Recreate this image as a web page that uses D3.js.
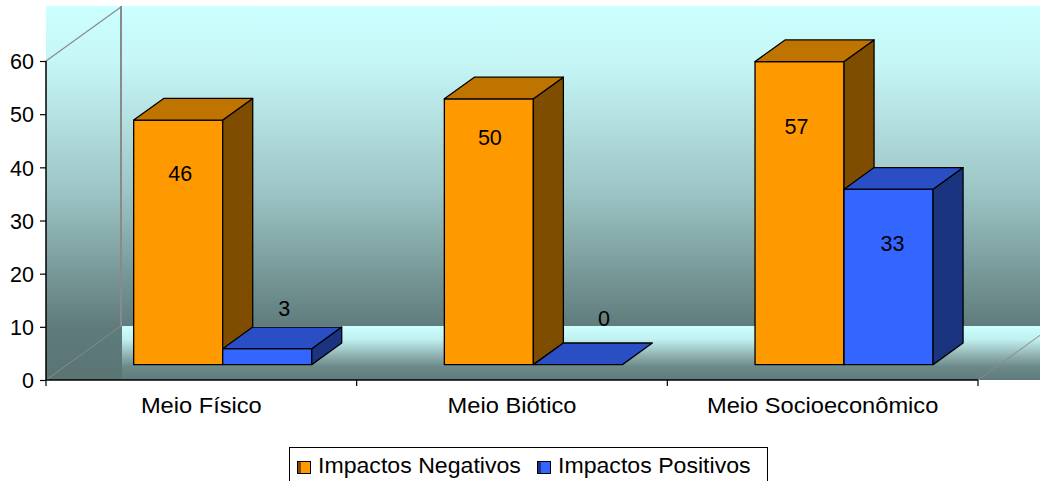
<!DOCTYPE html>
<html>
<head>
<meta charset="utf-8">
<script src="https://cdn.jsdelivr.net/npm/d3@7"></script>
<style>
  body { margin: 0; background: #fff; }
  svg { display: block; }
  text { font-family: "Liberation Sans", Arial, Helvetica, sans-serif; fill: #000; }
</style>
</head>
<body>
<svg id="chart" width="1040" height="481"></svg>
<script>
// ---- data ----
const categories = ["Meio Físico", "Meio Biótico", "Meio Socioeconômico"];
const seriesNames = ["Impactos Negativos", "Impactos Positivos"];
const negativos = [46, 50, 57];
const positivos = [3, 0, 33];
const yTicks = [0, 10, 20, 30, 40, 50, 60];

// ---- layout ----
const svg = d3.select("#chart");
const W = 1040, H = 481;
const plotLeft = 46, plotRight = 978;
const wallTop = 6;
const depth = { dx: 75, dy: -54 };          // full depth of the 3D box
const barFront = 0.285, barBack = 0.685;    // bar depth, as a fraction of the box
const fontSize = 21.5;

const y = d3.scaleLinear().domain([0, 60]).range([380, 61]);
const x = d3.scaleBand().domain(categories).range([plotLeft, plotRight]).padding(0);
const inner = d3.scaleBand().domain(seriesNames).range([0, x.bandwidth()])
  .paddingInner(0).paddingOuter(0.745);

const faces = {
  "Impactos Negativos": { front: "#ff9900", top: "#c07400", side: "#7f4d00" },
  "Impactos Positivos": { front: "#3366ff", top: "#2a4ec4", side: "#1b3480" }
};

// label placement relative to the top-centre of each bar's front face
const labelNudge = {
  "Impactos Negativos": [[2, 53], [1, 38], [-3, 65]],
  "Impactos Positivos": [[17, -40], [26, -46], [4, 54]]
};

const defs = svg.append("defs");
const wallGrad = defs.append("linearGradient").attr("id", "wallGrad")
  .attr("gradientUnits", "userSpaceOnUse")
  .attr("x1", 0).attr("x2", 0).attr("y1", wallTop).attr("y2", y(0));
[[0, "#ccffff"], [0.15, "#c6f6f6"], [0.5, "#9cc4c4"], [0.86, "#5f7b7b"], [1, "#5a7474"]]
  .forEach(([o, c]) => wallGrad.append("stop").attr("offset", o).attr("stop-color", c));

const floorTop = y(0) + depth.dy;
const floorGrad = defs.append("linearGradient").attr("id", "floorGrad")
  .attr("gradientUnits", "userSpaceOnUse")
  .attr("x1", 0).attr("x2", 0).attr("y1", floorTop).attr("y2", y(0));
[[0, "#ccffff"], [0.25, "#c0f0f0"], [0.55, "#90b0b0"], [0.75, "#6c8a8a"], [1, "#5f7a7a"]]
  .forEach(([o, c]) => floorGrad.append("stop").attr("offset", o).attr("stop-color", c));

// ---- walls and floor ----
svg.append("rect")
  .attr("x", plotLeft).attr("y", wallTop)
  .attr("width", W - plotLeft).attr("height", y(0) - wallTop)
  .attr("fill", "url(#wallGrad)");

svg.append("rect")
  .attr("x", plotLeft + depth.dx + 1).attr("y", floorTop)
  .attr("width", W - plotLeft - depth.dx).attr("height", y(0) - floorTop)
  .attr("fill", "url(#floorGrad)");

const edge = svg.append("g").attr("stroke", "#8a8a8a").attr("fill", "none");
edge.append("line")
  .attr("x1", plotLeft).attr("y1", y(60))
  .attr("x2", plotLeft + depth.dx).attr("y2", y(60) + depth.dy)
  .attr("stroke-width", 1.2);
edge.append("line")
  .attr("x1", plotLeft + depth.dx).attr("y1", wallTop)
  .attr("x2", plotLeft + depth.dx).attr("y2", floorTop)
  .attr("stroke-width", 2);
edge.append("line")
  .attr("x1", plotLeft).attr("y1", y(0))
  .attr("x2", plotLeft + depth.dx).attr("y2", floorTop)
  .attr("stroke-width", 1);
edge.append("line")
  .attr("x1", plotRight).attr("y1", y(0))
  .attr("x2", plotRight + depth.dx).attr("y2", y(0) + depth.dy)
  .attr("stroke-width", 1);

// ---- bars ----
const fdx = depth.dx * barFront, fdy = depth.dy * barFront;
const bdx = depth.dx * barBack, bdy = depth.dy * barBack;

const rows = [];
categories.forEach((c, i) => {
  rows.push({ c, i, s: seriesNames[0], v: negativos[i] });
  rows.push({ c, i, s: seriesNames[1], v: positivos[i] });
});

const pts = a => a.map(p => p.join(",")).join(" ");
const barG = svg.append("g")
  .attr("stroke", "#000").attr("stroke-width", 1.3).attr("stroke-linejoin", "round");

rows.forEach(d => {
  const xl = x(d.c) + inner(d.s), xr = xl + inner.bandwidth();
  const yt = y(d.v), yb = y(0);
  const col = faces[d.s];
  const g = barG.append("g");
  if (d.v > 0) {
    g.append("polygon").attr("fill", col.front)
      .attr("points", pts([[xl + fdx, yt + fdy], [xr + fdx, yt + fdy], [xr + fdx, yb + fdy], [xl + fdx, yb + fdy]]));
    g.append("polygon").attr("fill", col.side)
      .attr("points", pts([[xr + fdx, yt + fdy], [xr + bdx, yt + bdy], [xr + bdx, yb + bdy], [xr + fdx, yb + fdy]]));
  }
  g.append("polygon").attr("fill", col.top)
    .attr("points", pts([[xl + fdx, yt + fdy], [xr + fdx, yt + fdy], [xr + bdx, yt + bdy], [xl + bdx, yt + bdy]]));
});

// ---- value labels ----
rows.forEach(d => {
  const xl = x(d.c) + inner(d.s);
  const cx = xl + inner.bandwidth() / 2 + fdx;
  const n = labelNudge[d.s][d.i];
  svg.append("text")
    .attr("x", cx + n[0]).attr("y", y(d.v) + fdy + n[1])
    .attr("dy", "0.36em")
    .attr("text-anchor", "middle")
    .attr("font-size", fontSize)
    .text(d.v);
});

// ---- axes ----
const yAxis = svg.append("g").attr("transform", `translate(${plotLeft},0)`)
  .call(d3.axisLeft(y).tickValues(yTicks).tickSize(6).tickPadding(6).tickFormat(d3.format("d")));
yAxis.select(".domain").attr("stroke", "#000").attr("stroke-width", 1.5)
  .attr("d", `M0,${y(60)}V${y(0)}`);
yAxis.selectAll(".tick line").attr("stroke", "#000").attr("stroke-width", 1.2);
yAxis.selectAll(".tick text")
  .attr("font-size", fontSize).attr("font-family", null)
  .attr("dy", "0.36em");

const xAxis = svg.append("g").attr("transform", `translate(0,${y(0)})`);
xAxis.append("line")
  .attr("x1", plotLeft).attr("x2", plotRight)
  .attr("stroke", "#000").attr("stroke-width", 1.5);
const bounds = categories.map(c => x(c)).concat([plotRight]);
xAxis.selectAll("line.tk").data(bounds).join("line").attr("class", "tk")
  .attr("x1", d => d).attr("x2", d => d).attr("y1", 0).attr("y2", 6)
  .attr("stroke", "#000").attr("stroke-width", 1.2);
xAxis.selectAll("g.cat").data(categories).join("g").attr("class", "cat")
  .attr("transform", d => `translate(${x(d) + x.bandwidth() / 2},32.7) scale(1.1,1)`)
  .append("text")
  .attr("text-anchor", "middle")
  .attr("font-size", fontSize)
  .text(d => d);

// ---- legend ----
const legend = svg.append("g");
legend.append("rect")
  .attr("x", 289.5).attr("y", 447.5).attr("width", 478).attr("height", 40)
  .attr("fill", "#fff").attr("stroke", "#000").attr("stroke-width", 1);
const legendX = [297, 537];
seriesNames.forEach((s, i) => {
  const lx = legendX[i];
  legend.append("rect").attr("x", lx + 0.5).attr("y", 461.5).attr("width", 13).attr("height", 12)
    .attr("fill", faces[s].front).attr("stroke", "#000").attr("stroke-width", 1);
  legend.append("rect").attr("x", lx + 1).attr("y", 462).attr("width", 3).attr("height", 11)
    .attr("fill", faces[s].side);
  legend.append("g")
    .attr("transform", `translate(${lx + 21},473) scale(1.075,1)`)
    .append("text")
    .attr("font-size", fontSize)
    .text(s);
});
</script>
</body>
</html>
